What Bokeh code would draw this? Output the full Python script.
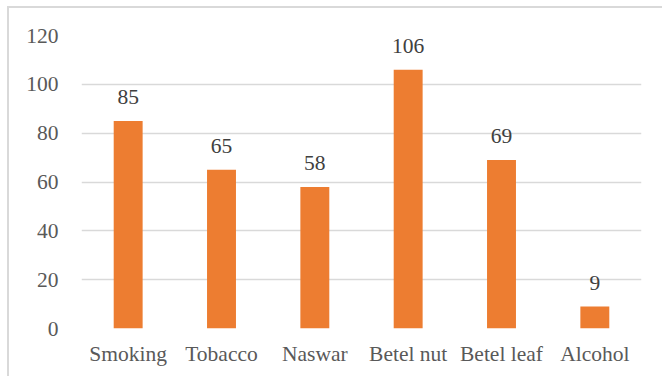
from bokeh.plotting import figure
from bokeh.models import ColumnDataSource, LabelSet, FactorRange, Range1d, FixedTicker
from bokeh.core.properties import value
from bokeh.embed import file_html
from bokeh.resources import INLINE

categories = ["Smoking", "Tobacco", "Naswar", "Betel nut", "Betel leaf", "Alcohol"]
counts = [85, 65, 58, 106, 69, 9]
y_ticks = [0, 20, 40, 60, 80, 100, 120]

FONT = "Liberation Serif"
FONT_SIZE = "21.5px"
BAR = "#ED7D31"
GRID = "#d9d9d9"

source = ColumnDataSource(data=dict(cat=categories, n=counts, txt=[str(v) for v in counts]))

p = figure(
    x_range=FactorRange(*categories, range_padding=0),
    y_range=Range1d(0, 120),
    width=655, height=370,
    min_border_left=72, min_border_right=23,
    min_border_top=27, min_border_bottom=50,
    output_backend="svg", toolbar_location=None,
)
# chart-area frame: light rule along the top and left edges
p.styles = {
    "margin-left": "7px", "margin-top": "6px",
    "border-top": "2px solid #d9d9d9", "border-left": "2px solid #d9d9d9",
}
p.outline_line_color = None
p.background_fill_color = "white"
p.border_fill_color = "white"

p.vbar(x="cat", top="n", width=0.31, source=source, fill_color=BAR, line_color=None)

# value labels above each bar
p.add_layout(LabelSet(
    x="cat", y="n", text="txt", source=source,
    text_align="center", text_baseline="alphabetic", y_offset=17,
    text_font=value(FONT), text_font_size=value(FONT_SIZE), text_color="#404040",
))

p.xgrid.grid_line_color = None
p.ygrid.grid_line_color = GRID
p.ygrid.grid_line_width = 1.5
p.yaxis.ticker = FixedTicker(ticks=y_ticks)

for ax in (p.xaxis, p.yaxis):
    ax.axis_line_color = None
    ax.major_tick_line_color = None
    ax.minor_tick_line_color = None
    ax.major_label_text_font = FONT
    ax.major_label_text_font_size = FONT_SIZE
    ax.major_label_text_color = "#595959"

p.yaxis.major_label_standoff = 17
p.xaxis.major_label_standoff = 7

open("out.html", "w").write(file_html(p, INLINE))
